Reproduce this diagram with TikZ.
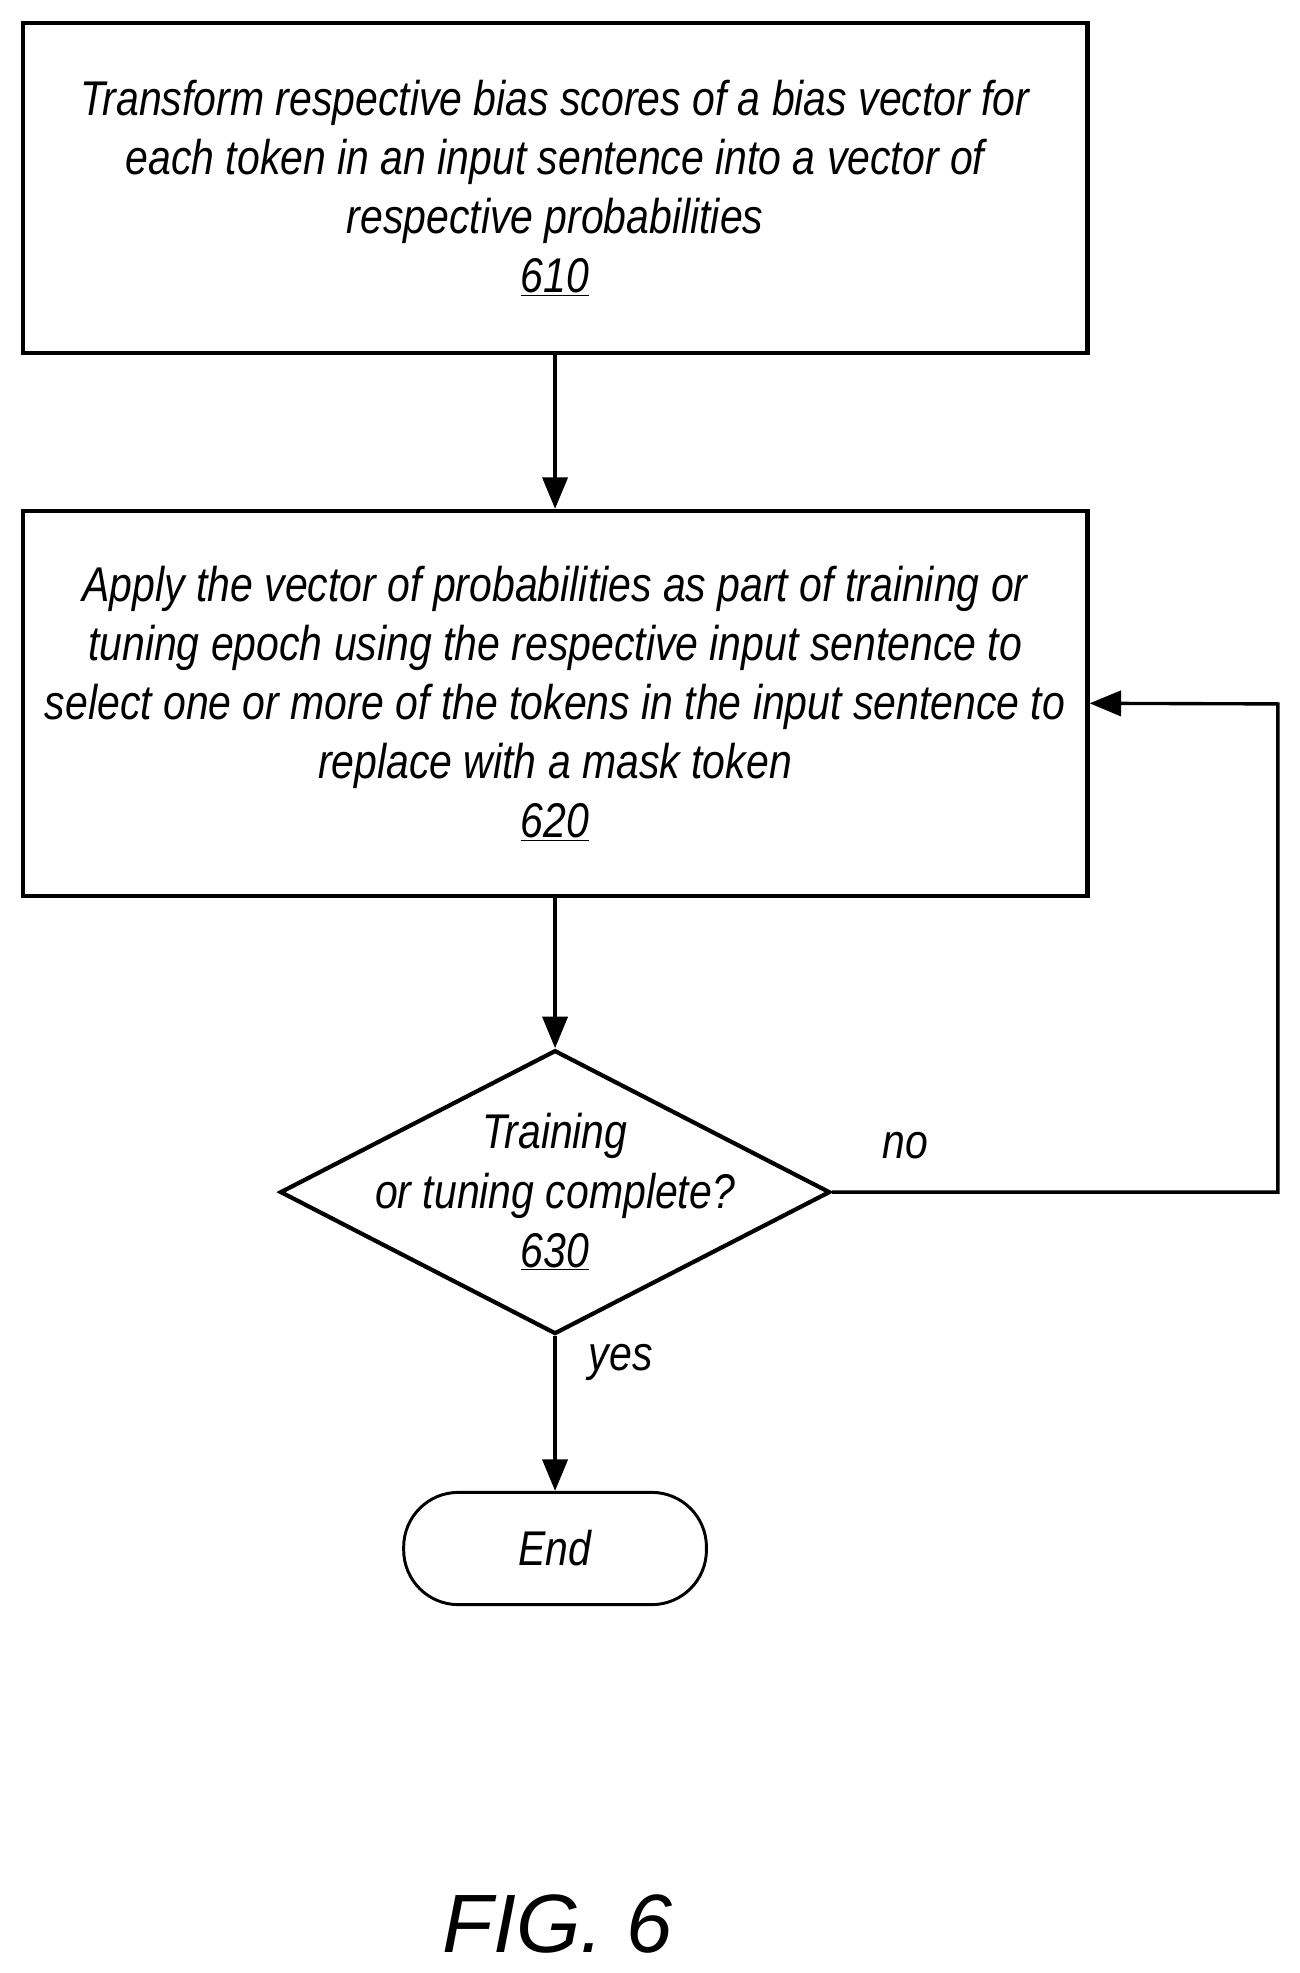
\documentclass[tikz,border=0pt]{standalone}
\usepackage{fontspec}
\setmainfont{Liberation Sans}[FakeStretch=0.84]
\newfontfamily\figfont{Liberation Sans}
\usetikzlibrary{shapes.geometric,arrows.meta}
\tikzstyle{ProcessBox} = [rectangle, draw, line width=1mm, minimum width=25.32cm, align=center,
    font=\itshape\fontsize{33}{40}\selectfont]
\tikzstyle{Decision} = [diamond, draw, line width=1mm, minimum width=13.08cm, minimum height=6.75cm, inner sep=0pt]
\tikzstyle{FlowText} = [align=center, font=\itshape\fontsize{33}{40}\selectfont]
\tikzstyle{Terminal} = [rectangle, rounded corners=1.3cm, draw, line width=0.7mm, minimum width=7.2cm,
    minimum height=2.67cm, font=\itshape\fontsize{33}{40}\selectfont]
\tikzstyle{arrow} = [line width=0.8mm, -{Triangle[length=0.75cm, width=0.6cm]}]

\begin{document}
\begin{tikzpicture}[x=0.03cm, y=-0.03cm]
        \useasboundingbox (0,0) rectangle (1030,1564);
        \node[ProcessBox, minimum height=7.86cm] (Transform) at (440,149) {Transform respective bias scores of a bias vector for\\each token in an input sentence into a vector of\\respective probabilities\\\underline{610}}; %step 610
        \node[ProcessBox, minimum height=9.15cm] (Apply) at (440,557.5) {Apply the vector of probabilities as part of training or\\tuning epoch using the respective input sentence to\\select one or more of the tokens in the input sentence to\\replace with a mask token\\\underline{620}}; %step 620
        \node[Decision] (Complete) at (440,945) {}; %decision 630
        \node[FlowText] at (Complete) {Training\\or tuning complete?\\\underline{630}};
        \node[Terminal] (End) at (440,1227.5) {End};
        \coordinate (LoopRight) at (1013,945);
        \coordinate (LoopTop) at (1013,558);
        \draw[arrow] (Transform) -- (Apply);
        \draw[arrow] (Apply) -- (Complete);
        \draw[arrow] (Complete) -- (End);
        \draw[arrow] (Complete.east) -- (LoopRight) -- (LoopTop) -- (Apply.east);
        \node[FlowText] (Yes) at (492,1080) {yes};
        \node[FlowText] (No) at (718,908) {no};
        \node[font=\figfont\itshape\fontsize{56}{64}\selectfont] (Fig) at (442,1525) {FIG. 6};
    \end{tikzpicture}
\end{document}
